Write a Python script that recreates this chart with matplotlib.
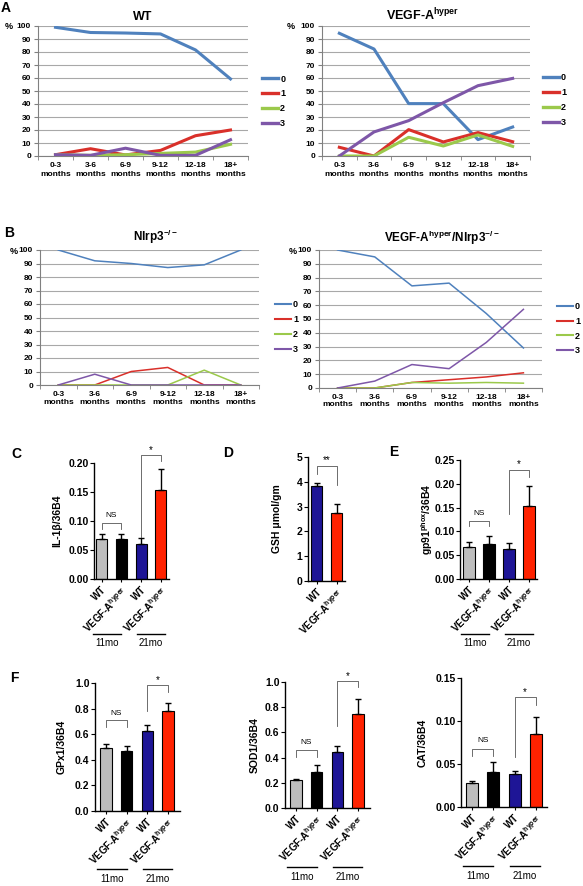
import matplotlib
matplotlib.use("Agg")
import matplotlib.pyplot as plt
from matplotlib.transforms import offset_copy
import numpy as np

plt.rcParams["font.family"] = ["Liberation Sans", "DejaVu Sans"]
plt.rcParams["mathtext.default"] = "regular"

W, H = 583, 886

# ---- line charts: % of eyes per lesion score, by age ----
periods = ["0-3", "3-6", "6-9", "9-12", "12-18", "18+"]
scores = ["0", "1", "2", "3"]

wt_scores = [[99, 95, 94.6, 93.9, 81.6, 59.3],
             [1, 5.6, 0.8, 4.3, 15.6, 20],
             [1, 0.5, 1, 2, 3, 9],
             [1, 0.5, 6, 0.5, 0.5, 12.5]]
vegf_scores = [[94.4, 82.3, 40.3, 40.3, 12.6, 22.3],
               [6.7, 0, 20.3, 10.8, 18, 11],
               [0, 0, 14.4, 7.7, 16.2, 7.4],
               [0, 18.5, 27.2, 41, 54.1, 59.7]]
nlrp3_scores = [[100, 92, 90, 87, 89, 100],
                [0, 0, 10, 13, 0, 0],
                [0, 0, 0, 0, 11, 0],
                [0, 8, 0, 0, 0, 0]]
vegf_nlrp3_scores = [[100, 95, 74, 76, 54, 29],
                     [0, 0, 4, 6, 8, 11],
                     [0, 0, 4, 3.5, 4, 3.5],
                     [0, 5, 17, 14, 33, 57]]

# ---- bar charts: mean and SEM ----
group_labels = ["WT", "VEGF-A$^{hyper}$", "WT", "VEGF-A$^{hyper}$"]
il1b_mean = [0.069, 0.069, 0.060, 0.154]
il1b_sem = [0.009, 0.008, 0.011, 0.035]
gsh_mean = [3.85, 2.75]
gsh_sem = [0.12, 0.35]
gp91_mean = [0.067, 0.074, 0.062, 0.153]
gp91_sem = [0.010, 0.016, 0.014, 0.043]
gpx1_mean = [0.49, 0.465, 0.625, 0.785]
gpx1_sem = [0.03, 0.045, 0.045, 0.055]
sod1_mean = [0.22, 0.289, 0.441, 0.743]
sod1_sem = [0.008, 0.053, 0.054, 0.126]
cat_mean = [0.0284, 0.041, 0.038, 0.0845]
cat_sem = [0.0015, 0.011, 0.004, 0.0205]

LINE_COLORS = ["#4F81BD", "#D9302A", "#9BC94B", "#7E57A8"]
BAR_COLORS = ["#BDBDBD", "#000000", "#1E1596", "#FF2200"]

fig = plt.figure(figsize=(W / 100, H / 100), dpi=100)


def add_ax(l, t, r, b):
    return fig.add_axes([l / W, 1 - b / H, (r - l) / W, (b - t) / H])


def line_panel(box, series, lw, leg_lw, leg_xy, pad, linesp):
    ax = add_ax(*box)
    x = np.arange(len(periods)) + 0.5
    for s, c, lab in zip(series, LINE_COLORS, scores):
        ax.plot(x, s, color=c, lw=lw, label=lab, zorder=3)
    ax.set_xlim(0, len(periods))
    ax.set_ylim(0, 100)
    ax.set_yticks(range(0, 101, 10))
    ax.yaxis.grid(True, color="#a8a8a8", lw=0.8)
    ax.set_axisbelow(True)
    for sp in ("top", "right"):
        ax.spines[sp].set_visible(False)
    for sp in ("left", "bottom"):
        ax.spines[sp].set_color("#808080")
        ax.spines[sp].set_linewidth(0.8)
    ax.set_xticks(x, [p + "\nmonths" for p in periods], fontsize=6,
                  fontweight="bold", linespacing=linesp)
    ax.set_xticks(np.arange(len(periods) + 1), minor=True)
    ax.tick_params(axis="x", which="major", length=0, pad=pad)
    ax.tick_params(axis="x", which="minor", length=3, color="#808080")
    ax.tick_params(axis="y", length=3, color="#808080", pad=2, labelsize=6)
    for t in ax.get_yticklabels():
        t.set_fontweight("bold")
    leg = ax.legend(loc="center left", bbox_to_anchor=leg_xy, frameon=False,
                    handlelength=1.8, handletextpad=0.2, labelspacing=0.65,
                    borderpad=0, borderaxespad=0,
                    prop={"size": 6.5, "weight": "bold"})
    for ln in leg.get_lines():
        ln.set_linewidth(leg_lw)
    return ax


def bar_panel(box, means, sems, labels, ylim, yticks, fmt, ylabel, ylabel_px, x0, dx):
    l, t, r, b = box
    ax = add_ax(*box)
    n = len(means)
    x = np.arange(n)
    ax.bar(x, means, width=0.56, color=BAR_COLORS[-n:] if n == 2 else BAR_COLORS,
           edgecolor="black", linewidth=0.8, zorder=2)
    ax.errorbar(x, means, yerr=[np.zeros(n), sems], fmt="none", ecolor="black",
                elinewidth=1, capsize=2.5, capthick=1, zorder=3)
    ax.set_xlim((l - x0) / dx, (r - x0) / dx)
    ax.set_ylim(*ylim)
    for sp in ("top", "right"):
        ax.spines[sp].set_visible(False)
    for sp in ("left", "bottom"):
        ax.spines[sp].set_linewidth(1)
    ax.set_yticks(yticks, [fmt.format(v) for v in yticks], fontsize=7.5, fontweight="bold")
    ax.tick_params(axis="y", length=3, width=0.8, pad=1)
    ax.set_xticks(x, labels, rotation=45, ha="right", va="top", rotation_mode="anchor",
                  fontsize=7, fontweight="bold")
    ax.tick_params(axis="x", length=2, width=0.8, pad=2)
    ax.set_ylabel(ylabel, fontsize=7.5, fontweight="bold")
    ax.yaxis.set_label_coords((ylabel_px - l) / (r - l), 0.5)
    return ax


def bracket(ax, x1, x2, y_left, y_top, y_right, text, ty, size):
    ax.plot([x1, x1, x2, x2], [y_left, y_top, y_top, y_right], color="#555555",
            lw=0.6, clip_on=False)
    ax.text((x1 + x2) / 2, ty, text, ha="center", va="center", fontsize=size,
            clip_on=False)


def age_groups(ax, line_off, text_off):
    tr_line = offset_copy(ax.get_xaxis_transform(), fig=fig, y=-line_off, units="dots")
    tr_text = offset_copy(ax.get_xaxis_transform(), fig=fig, y=-text_off, units="dots")
    for (a, c), lab in zip([(-0.42, 1.0), (1.78, 3.2)], ["11mo", "21mo"]):
        ax.plot([a, c], [0, 0], color="black", lw=1, transform=tr_line, clip_on=False)
        ax.text((a + c) / 2, 0, lab, transform=tr_text, ha="center", va="center",
                fontsize=7)


# ---- panel A / B line charts ----
line_panel((38, 26, 248, 156), wt_scores, 2.2, 2.4, (1.067, 0.42), 4.5, 1.45)
line_panel((322, 26, 530, 156), vegf_scores, 2.2, 2.4, (1.062, 0.43), 4.5, 1.45)
line_panel((40, 250, 259, 385), nlrp3_scores, 1.1, 1.5, (1.073, 0.43), 4.5, 1.05)
line_panel((319, 250, 542, 388), vegf_nlrp3_scores, 1.1, 1.5, (1.067, 0.43), 4.5, 1.05)

titles = [(143, 20, "WT", 9), (423, 20.5, "VEGF-A$^{hyper}$", 9),
          (156, 241, "Nlrp3$^{-/-}$", 8.5),
          (442, 242, "VEGF-A$^{hyper}$/Nlrp3$^{-/-}$", 8.5)]
for xp, yp, s, fs in titles:
    fig.text(xp / W, 1 - yp / H, s, ha="center", va="baseline", fontsize=fs,
             fontweight="bold")
for xp, yp in [(9, 26.5), (291, 26.5), (14, 251), (293, 251)]:
    fig.text(xp / W, 1 - yp / H, "%", ha="center", va="center", fontsize=6.5,
             fontweight="bold")

# ---- panels C-F bar charts ----
ax = bar_panel((94, 463, 169, 579), il1b_mean, il1b_sem, group_labels, (0, 0.20),
               np.arange(0, 0.201, 0.05), "{:.2f}", "IL-1β/36B4", 62, 101.5, 19.8)
bracket(ax, 0, 1, 0.087, 0.097, 0.087, "NS", 0.109, 6)
bracket(ax, 2, 3, 0.073, 0.213, 0.203, "*", 0.223, 7)
age_groups(ax, 55, 64)

ax = bar_panel((308, 457, 345, 581), gsh_mean, gsh_sem, group_labels[:2], (0, 5),
               range(0, 6), "{:d}", "GSH μmol/gm", 282, 316.7, 20)
bracket(ax, 0, 1, 4.3, 4.64, 3.87, "**", 4.86, 7)

ax = bar_panel((460, 460, 537, 579), gp91_mean, gp91_sem, group_labels, (0, 0.25),
               np.arange(0, 0.251, 0.05), "{:.2f}", "gp91$^{phox}$/36B4", 435, 469, 20)
bracket(ax, 0, 1, 0.112, 0.122, 0.112, "NS", 0.138, 6)
bracket(ax, 2, 3, 0.137, 0.229, 0.215, "*", 0.241, 7)
age_groups(ax, 55, 64)

ax = bar_panel((95, 683, 180, 811), gpx1_mean, gpx1_sem, group_labels, (0, 1),
               np.arange(0, 1.01, 0.2), "{:.1f}", "GPx1/36B4", 67, 106, 20.7)
bracket(ax, 0, 1, 0.66, 0.713, 0.66, "NS", 0.765, 6)
bracket(ax, 2, 3, 0.778, 0.987, 0.927, "*", 1.025, 7)
age_groups(ax, 58, 68)

ax = bar_panel((285, 682, 370, 808), sod1_mean, sod1_sem, group_labels, (0, 1),
               np.arange(0, 1.01, 0.2), "{:.1f}", "SOD1/36B4", 260, 296, 20.7)
bracket(ax, 0, 1, 0.406, 0.463, 0.406, "NS", 0.52, 6)
bracket(ax, 2, 3, 0.647, 1.008, 0.957, "*", 1.05, 7)
age_groups(ax, 59, 69)

ax = bar_panel((461, 678, 547, 807), cat_mean, cat_sem, group_labels, (0, 0.15),
               np.arange(0, 0.151, 0.05), "{:.2f}", "CAT/36B4", 428, 472, 21.3)
bracket(ax, 0, 1, 0.059, 0.067, 0.059, "NS", 0.077, 6)
bracket(ax, 2, 3, 0.058, 0.128, 0.119, "*", 0.134, 7)
age_groups(ax, 59, 69)

# panel letters
for xp, yp, s in [(6, 8.5, "A"), (9.5, 233, "B"), (16, 454, "C"), (228, 453, "D"),
                  (394, 452, "E"), (14, 678, "F")]:
    fig.text(xp / W, 1 - yp / H, s, ha="center", va="center", fontsize=10,
             fontweight="bold")

fig.savefig("out.png", dpi=100)
plt.close(fig)
